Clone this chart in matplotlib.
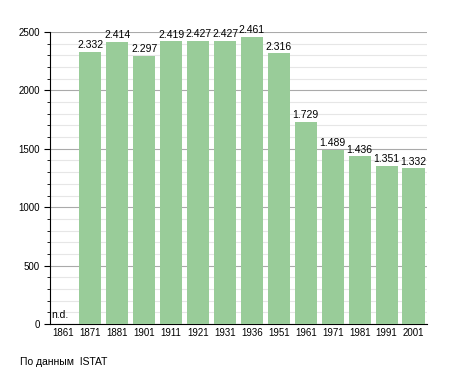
import matplotlib.pyplot as plt
from matplotlib.ticker import MultipleLocator

years = ['1861', '1871', '1881', '1901', '1911', '1921', '1931', '1936',
         '1951', '1961', '1971', '1981', '1991', '2001']
population = [0, 2332, 2414, 2297, 2419, 2427, 2427, 2461,
              2316, 1729, 1489, 1436, 1351, 1332]
labels = ['n.d.', '2.332', '2.414', '2.297', '2.419', '2.427', '2.427', '2.461',
          '2.316', '1.729', '1.489', '1.436', '1.351', '1.332']

plt.rcParams['font.family'] = ['Liberation Sans', 'DejaVu Sans']
fig = plt.figure(figsize=(4.55, 3.73), dpi=100)
ax = fig.add_axes([50 / 455, 49 / 373, 377 / 455, 292 / 373])

x = list(range(len(years)))
ax.bar(x, population, width=0.82, color='#99cc99', zorder=3)

for i, (v, lab) in enumerate(zip(population, labels)):
    if v == 0:
        ax.text(i - 0.45, 30, lab, fontsize=7.5, ha='left', va='bottom', zorder=4)
    else:
        ax.text(i, v + 15, lab, fontsize=7.5, ha='center', va='bottom', zorder=4)

ax.set_xlim(-0.5, len(years) - 0.5)
ax.set_ylim(0, 2500)
ax.set_xticks(x)
ax.set_xticklabels(years, fontsize=7)
ax.tick_params(axis='x', length=0, pad=3)
ax.yaxis.set_major_locator(MultipleLocator(500))
ax.yaxis.set_minor_locator(MultipleLocator(100))
ax.tick_params(axis='y', which='major', labelsize=7, length=4, direction='out')
ax.tick_params(axis='y', which='minor', length=2, direction='out')
ax.grid(axis='y', which='major', color='#aaaaaa', linewidth=0.8, zorder=0)
ax.grid(axis='y', which='minor', color='#e6e6e6', linewidth=0.8, zorder=0)

for s in ['top', 'right']:
    ax.spines[s].set_visible(False)
ax.spines['left'].set_linewidth(0.8)
ax.spines['bottom'].set_linewidth(0.8)

fig.text(20 / 455, 1 - 362 / 373, 'По данным  ISTAT', fontsize=7.5, va='center')

fig.savefig('out.png', dpi=100)
